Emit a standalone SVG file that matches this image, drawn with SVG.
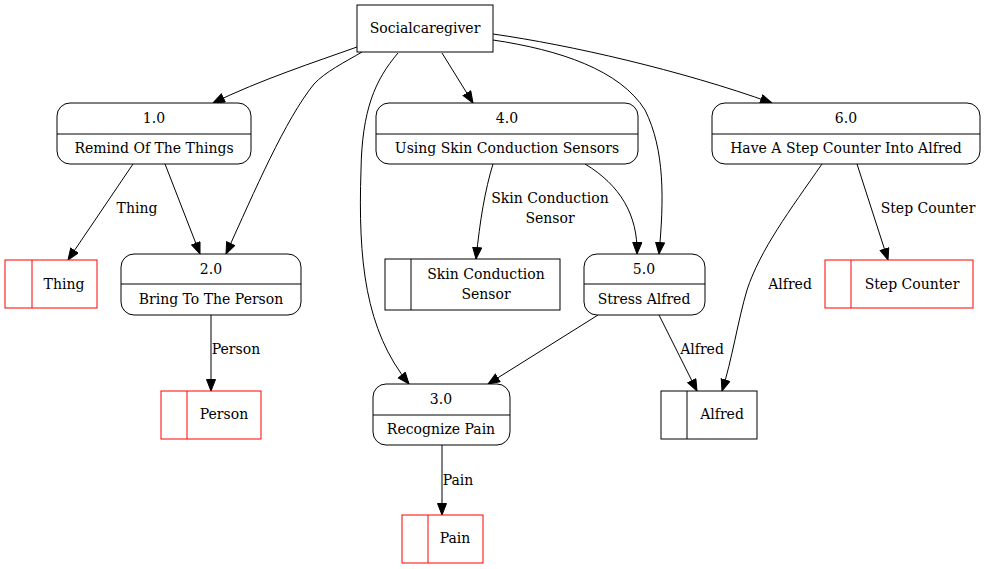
<svg xmlns="http://www.w3.org/2000/svg" width="987" height="569" viewBox="0 0 987 569">
<style>
text{font-family:'DejaVu Serif',serif;font-size:14px;fill:#000;text-anchor:middle}
.proc rect{fill:#fff;stroke:#000;stroke-width:1}
.proc line,.store line{stroke:#000;stroke-width:1}
.store rect{fill:#fff;stroke:#000;stroke-width:1}
.red rect,.red line{stroke:#ff0000}
.ext rect{fill:#fff;stroke:#000;stroke-width:1}
#edges path{fill:none;stroke:#000;stroke-width:1;marker-end:url(#arr)}
</style>
<defs>
<marker id="arr" markerUnits="userSpaceOnUse" markerWidth="13" markerHeight="11" refX="12" refY="5" orient="auto"><path d="M0.5,0.5 L12,5 L0.5,9.5 z" fill="#000" stroke="#000" stroke-width="1"/></marker>
</defs>
<rect width="987" height="569" fill="#fff"/>
<g id="edges">
<path d="M357,47 C315,62 260,80 213,103"/>
<path d="M362,52 C345,62 325,72 314,84 C285,120 255,190 226,254"/>
<path d="M398,53 C375,80 362,110 361,170 C358,260 365,330 409,384"/>
<path d="M442,53 L473,103"/>
<path d="M493,40 C560,50 620,70 645,110 C665,150 664,200 659,254"/>
<path d="M493,34 C570,45 680,70 772,103"/>
<path d="M133,164 L68,260"/>
<path d="M165,164 L200,254"/>
<path d="M211,315 L211,391"/>
<path d="M493,164 C485,190 480,220 476,259"/>
<path d="M585,164 C620,185 638,215 637,254"/>
<path d="M598,315 L488,384"/>
<path d="M659,315 L697,391"/>
<path d="M822,164 C790,210 760,250 747,290 C738,320 732,360 722,391"/>
<path d="M857,164 L888,260"/>
<path d="M442,445 L442,515"/>
</g>
<g id="labels">
<text x="137" y="213">Thing</text>
<text x="236" y="354">Person</text>
<text x="550" y="203">Skin Conduction</text>
<text x="550" y="223">Sensor</text>
<text x="702" y="354">Alfred</text>
<text x="790" y="289">Alfred</text>
<text x="928" y="213">Step Counter</text>
<text x="458" y="485">Pain</text>
</g>
<g id="socialcaregiver" class="ext">
<rect x="357" y="5" width="136" height="47"/>
<text x="425" y="33">Socialcaregiver</text>
</g>
<g id="p1" class="proc">
<rect x="57" y="103" width="194" height="61" rx="13"/>
<line x1="57" y1="134" x2="251" y2="134"/>
<text x="154" y="123">1.0</text>
<text x="154" y="153">Remind Of The Things</text>
</g>
<g id="p2" class="proc">
<rect x="121" y="254" width="180" height="61" rx="13"/>
<line x1="121" y1="284" x2="301" y2="284"/>
<text x="211" y="274">2.0</text>
<text x="211" y="304">Bring To The Person</text>
</g>
<g id="p3" class="proc">
<rect x="373" y="384" width="137" height="61" rx="13"/>
<line x1="373" y1="415" x2="510" y2="415"/>
<text x="441" y="404">3.0</text>
<text x="441" y="434">Recognize Pain</text>
</g>
<g id="p4" class="proc">
<rect x="376" y="103" width="262" height="61" rx="13"/>
<line x1="376" y1="134" x2="638" y2="134"/>
<text x="507" y="123">4.0</text>
<text x="507" y="153">Using Skin Conduction Sensors</text>
</g>
<g id="p5" class="proc">
<rect x="584" y="254" width="121" height="61" rx="13"/>
<line x1="584" y1="284" x2="705" y2="284"/>
<text x="644" y="274">5.0</text>
<text x="644" y="304">Stress Alfred</text>
</g>
<g id="p6" class="proc">
<rect x="712" y="103" width="268" height="61" rx="13"/>
<line x1="712" y1="134" x2="980" y2="134"/>
<text x="846" y="123">6.0</text>
<text x="846" y="153">Have A Step Counter Into Alfred</text>
</g>
<g id="s_thing" class="store red">
<rect x="5" y="260" width="92" height="48"/>
<line x1="32" y1="260" x2="32" y2="308"/>
<text x="64" y="289">Thing</text>
</g>
<g id="s_skin" class="store">
<rect x="385" y="259" width="175" height="51"/>
<line x1="411" y1="259" x2="411" y2="310"/>
<text x="486" y="279">Skin Conduction</text>
<text x="486" y="299">Sensor</text>
</g>
<g id="s_step" class="store red">
<rect x="825" y="260" width="148" height="48"/>
<line x1="851" y1="260" x2="851" y2="308"/>
<text x="912" y="289">Step Counter</text>
</g>
<g id="s_person" class="store red">
<rect x="161" y="391" width="100" height="48"/>
<line x1="187" y1="391" x2="187" y2="439"/>
<text x="224" y="419">Person</text>
</g>
<g id="s_alfred" class="store">
<rect x="661" y="391" width="96" height="48"/>
<line x1="687" y1="391" x2="687" y2="439"/>
<text x="722" y="419">Alfred</text>
</g>
<g id="s_pain" class="store red">
<rect x="402" y="515" width="81" height="48"/>
<line x1="428" y1="515" x2="428" y2="563"/>
<text x="455" y="543">Pain</text>
</g>
</svg>
